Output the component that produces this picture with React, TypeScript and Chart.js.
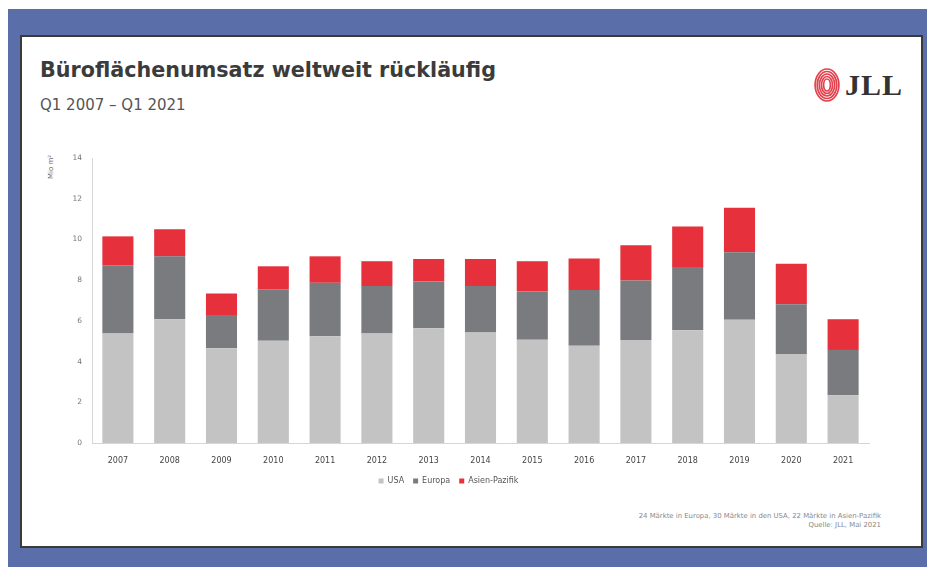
import React, { useEffect, useRef } from "react";
import { Chart, registerables } from "chart.js";

Chart.register(...registerables);

const years = ["2007", "2008", "2009", "2010", "2011", "2012", "2013", "2014", "2015", "2016", "2017", "2018", "2019", "2020", "2021"];
const usa = [5.38, 6.08, 4.65, 5.02, 5.24, 5.38, 5.64, 5.43, 5.07, 4.78, 5.06, 5.54, 6.05, 4.37, 2.34];
const europa = [3.35, 3.09, 1.64, 2.53, 2.63, 2.33, 2.31, 2.28, 2.39, 2.73, 2.92, 3.11, 3.32, 2.44, 2.23];
const asienPazifik = [1.42, 1.33, 1.06, 1.13, 1.3, 1.22, 1.09, 1.33, 1.47, 1.55, 1.73, 1.98, 2.19, 1.99, 1.51];
const seriesNames = ["USA", "Europa", "Asien-Pazifik"];
const yTicks = [0, 2, 4, 6, 8, 10, 12, 14];

const FONT = "'DejaVu Sans', 'Liberation Sans', sans-serif";

function BarChart() {
  const ref = useRef<HTMLCanvasElement>(null);
  useEffect(() => {
    if (!ref.current) return;
    const chart = new Chart(ref.current, {
      type: "bar",
      data: {
        labels: years,
        datasets: [
          { label: seriesNames[0], data: usa, backgroundColor: "#c3c3c3" },
          { label: seriesNames[1], data: europa, backgroundColor: "#7a7b7f" },
          { label: seriesNames[2], data: asienPazifik, backgroundColor: "#e6303b" },
        ],
      },
      options: {
        animation: false,
        responsive: false,
        maintainAspectRatio: false,
        layout: { padding: { left: 0, right: 31, top: 16, bottom: 7 } },
        datasets: { bar: { categoryPercentage: 1, barPercentage: 0.6 } },
        plugins: {
          tooltip: { enabled: false },
          legend: {
            position: "bottom",
            labels: {
              boxWidth: 5,
              boxHeight: 5,
              padding: 9,
              color: "#555",
              font: { family: FONT, size: 8 },
            },
          },
        },
        scales: {
          x: {
            stacked: true,
            grid: { display: false, drawTicks: false },
            border: { display: true, color: "#d6d6d6", width: 1 },
            ticks: { color: "#444", font: { family: FONT, size: 8 }, padding: 13, maxRotation: 0 },
            afterFit: (s: any) => { s.height = 25; },
          },
          y: {
            stacked: true,
            min: 0,
            max: 14,
            afterBuildTicks: (s: any) => { s.ticks = yTicks.map((v) => ({ value: v })); },
            grid: { display: false, drawTicks: false },
            border: { display: true, color: "#d6d6d6", width: 1 },
            ticks: { color: "#777", font: { family: FONT, size: 7.5 }, padding: 10 },
            afterFit: (s: any) => { s.width = 64; },
          },
        },
      },
    });
    return () => chart.destroy();
  }, []);
  return <canvas ref={ref} width={872} height={360} style={{ position: "absolute", left: 6, top: 105, width: 872, height: 360 }} />;
}

function Logo() {
  const rings = [14, 11.5, 9, 6.5, 4];
  return (
    <div style={{ position: "absolute", left: 789, top: 30, width: 120, height: 36 }}>
      <svg width={32} height={36} style={{ position: "absolute", left: 0, top: 0 }}>
        {rings.map((r, i) => (
          <ellipse key={i} cx={16} cy={18} rx={r * 0.85} ry={r + 2} fill="none" stroke="#e5424f" strokeWidth={1.7} />
        ))}
      </svg>
      <div style={{ position: "absolute", left: 34, top: 3, fontFamily: "'Liberation Serif', serif", fontWeight: 700, fontSize: 30, lineHeight: "30px", color: "#333", letterSpacing: 1 }}>JLL</div>
    </div>
  );
}

export default function App() {
  return (
    <div style={{ position: "fixed", left: 8, top: 9, right: 0, bottom: 0, background: "#5a6fa9", overflow: "hidden" }}>
      <div style={{ position: "absolute", left: 12, top: 26, width: 903, height: 513, background: "#fff", border: "2px solid #3a3a3a", boxSizing: "border-box" }}>
        <div style={{ position: "absolute", left: 18, top: 23, fontFamily: FONT, fontWeight: 700, fontSize: 20.7, lineHeight: "20px", color: "#3b3b3b", whiteSpace: "nowrap" }}>
          Büroflächenumsatz weltweit rückläufig
        </div>
        <div style={{ position: "absolute", left: 18, top: 61, fontFamily: FONT, fontSize: 15, lineHeight: "15px", color: "#555", whiteSpace: "nowrap" }}>
          Q1 2007 – Q1 2021
        </div>
        <Logo />
        <div style={{ position: "absolute", left: 25, top: 142, transform: "rotate(-90deg)", transformOrigin: "0 0", fontFamily: FONT, fontSize: 7, lineHeight: "8px", color: "#666", whiteSpace: "nowrap" }}>
          Mio m²
        </div>
        <BarChart />
        <div style={{ position: "absolute", right: 40, top: 475, textAlign: "right", fontFamily: FONT, fontSize: 6.9, lineHeight: "9px", color: "#888", whiteSpace: "nowrap" }}>
          24 Märkte in Europa, 30 Märkte in den USA, 22 Märkte in Asien-Pazifik
          <br />
          Quelle: JLL, Mai 2021
        </div>
      </div>
    </div>
  );
}
